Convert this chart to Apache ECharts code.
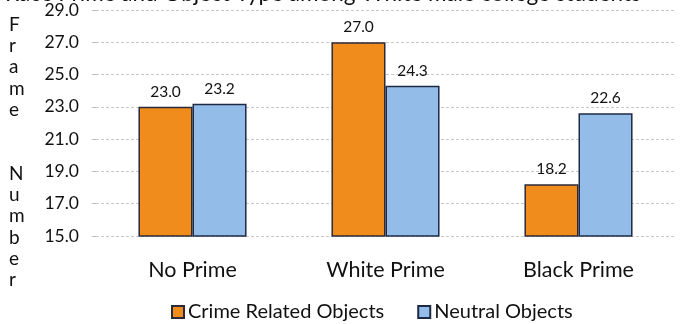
<!DOCTYPE html>
<html>
<head>
<meta charset="utf-8">
<style>
  html, body { margin: 0; padding: 0; background: #ffffff; }
  #chart { width: 683px; height: 324px; }
</style>
<script src="https://cdn.jsdelivr.net/npm/echarts@6/dist/echarts.min.js"></script>
</head>
<body>
<div id="chart"></div>
<script>
// Mean frame number by race prime and object type
const categories = ['No Prime', 'White Prime', 'Black Prime'];
const crimeRelated = [23.0, 27.0, 18.2];
const neutral = [23.2, 24.3, 22.6];
const yTicks = [15, 17, 19, 21, 23, 25, 27, 29];

const FONT = 'Lato, "Open Sans", sans-serif';
const chart = echarts.init(document.getElementById('chart'), null, { renderer: 'canvas' });

const labelStyle = {
  show: true,
  position: 'top',
  distance: 7,
  color: '#111',
  fontFamily: FONT,
  fontSize: 15.5,
  formatter: p => p.value.toFixed(1)
};

chart.setOption({
  animation: false,
  backgroundColor: '#ffffff',
  title: {
    text: 'Race Prime and Object Type among White male college students',
    left: 0,
    top: -23,
    textStyle: { fontFamily: FONT, fontSize: 22.5, fontWeight: 'normal', color: '#111' }
  },
  graphic: [{
    type: 'text',
    left: 9,
    top: 14,
    style: {
      text: 'F\nr\na\nm\ne\n\n\nN\nu\nm\nb\ne\nr',
      font: '19px ' + FONT,
      lineHeight: 21.3,
      fill: '#111',
      align: 'center'
    }
  }],
  legend: {
    top: 297,
    left: 166,
    itemWidth: 12,
    itemHeight: 12,
    itemGap: 33,
    icon: 'rect',
    textStyle: { fontFamily: FONT, fontSize: 20, color: '#111', padding: [0, 0, 0, -1] },
    data: ['Crime Related Objects', 'Neutral Objects']
  },
  grid: { left: 96, right: 8, top: 10, bottom: 88 },
  xAxis: {
    type: 'category',
    data: categories,
    axisLine: { show: false },
    axisTick: { show: false },
    axisLabel: { color: '#111', fontFamily: FONT, fontSize: 21.5, margin: 23 }
  },
  yAxis: {
    type: 'value',
    min: yTicks[0],
    max: yTicks[yTicks.length - 1],
    interval: 2,
    axisLine: { show: false },
    axisTick: { show: true, length: 4, lineStyle: { color: '#bbb' } },
    axisLabel: {
      color: '#111', fontFamily: FONT, fontSize: 17.5, margin: 17,
      formatter: v => v.toFixed(1)
    },
    splitLine: { lineStyle: { color: '#c8c8c8', type: [3, 2], width: 1 } }
  },
  series: [
    {
      name: 'Crime Related Objects',
      type: 'bar',
      data: crimeRelated,
      barGap: '0%',
      barCategoryGap: '44%',
      itemStyle: { color: '#F08C1C', borderColor: '#2a2a3a', borderWidth: 1.5 },
      label: labelStyle
    },
    {
      name: 'Neutral Objects',
      type: 'bar',
      data: neutral,
      itemStyle: { color: '#93BCE8', borderColor: '#1e2a44', borderWidth: 1.5 },
      label: labelStyle
    }
  ]
});
</script>
</body>
</html>
